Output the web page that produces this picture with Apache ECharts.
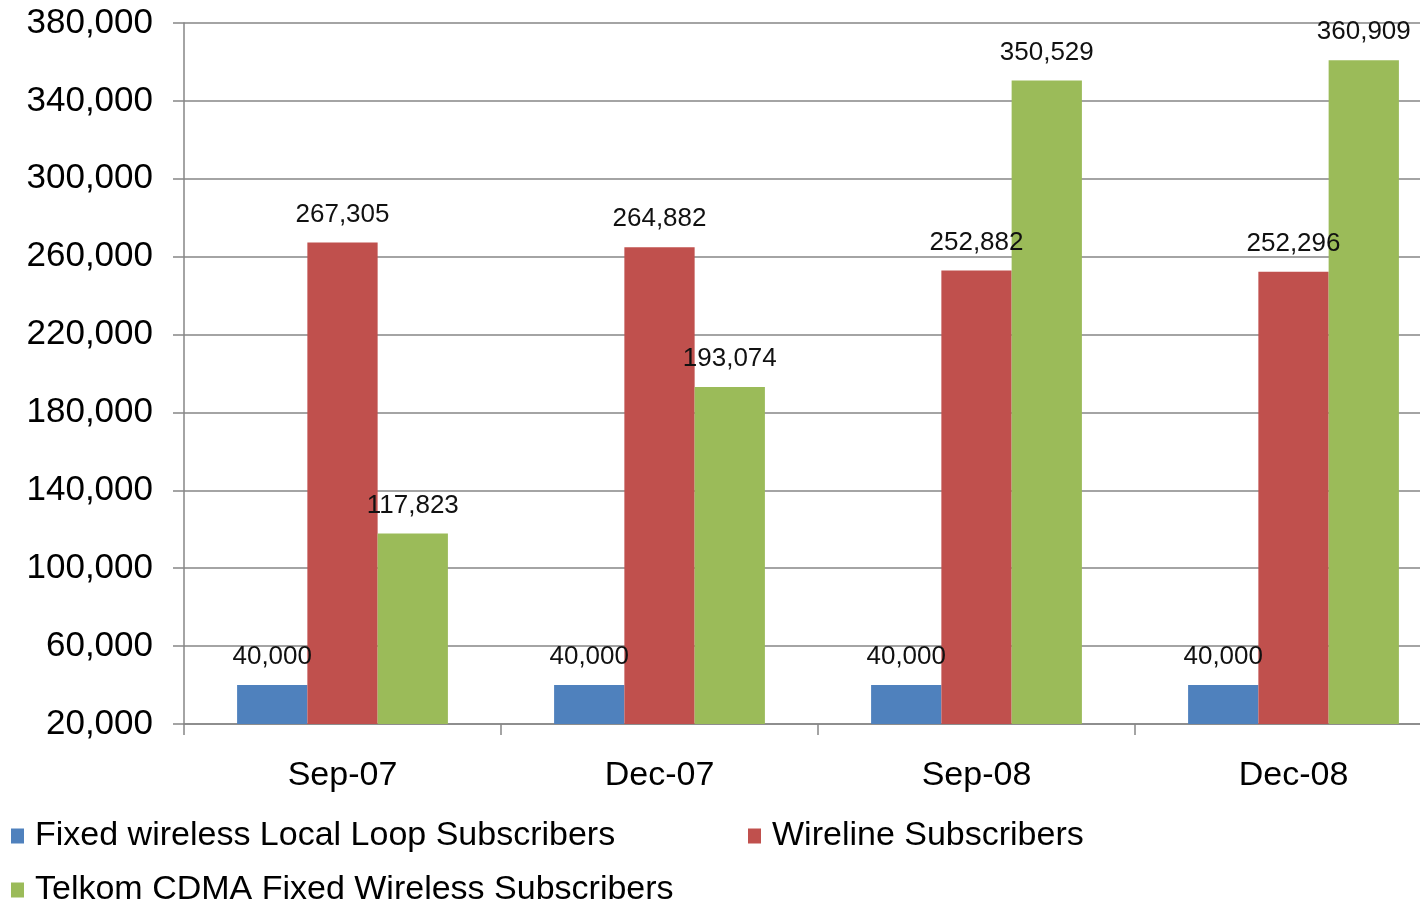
<!DOCTYPE html>
<html>
<head>
<meta charset="utf-8">
<script src="https://cdn.jsdelivr.net/npm/echarts@6/dist/echarts.min.js"></script>
<style>
html,body{margin:0;padding:0;background:#fff;overflow:hidden;}
#chart{width:1452px;height:902px;}
</style>
</head>
<body>
<div id="chart"></div>
<script>
const categories = ['Sep-07', 'Dec-07', 'Sep-08', 'Dec-08'];
const seriesNames = ['Fixed wireless Local Loop Subscribers', 'Wireline Subscribers', 'Telkom CDMA Fixed Wireless Subscribers'];
const fixedWirelessLocalLoop = [40000, 40000, 40000, 40000];
const wireline = [267305, 264882, 252882, 252296];
const telkomCdma = [117823, 193074, 350529, 360909];
const yTicks = [20000, 60000, 100000, 140000, 180000, 220000, 260000, 300000, 340000, 380000];

const colors = ['#4F81BD', '#C0504D', '#9BBB59'];
const fmt = v => Number(v).toLocaleString('en-US');
const FONT = '"Liberation Sans", Arial, sans-serif';

const chart = echarts.init(document.getElementById('chart'), null, {renderer: 'canvas'});

function mkSeries(name, data, color) {
  return {
    name: name,
    type: 'bar',
    data: data,
    barGap: '0%',
    barCategoryGap: '33.5%',
    itemStyle: {color: color},
    label: {
      show: true,
      position: 'top',
      distance: 15,
      formatter: p => fmt(p.value),
      color: '#111',
      fontFamily: FONT,
      fontSize: 26
    }
  };
}

const legendText = {color: '#000', fontFamily: FONT, fontSize: 34, padding: [0, 0, 0, 6]};
const legendCommon = {icon: 'rect', itemWidth: 13, itemHeight: 15, padding: 0, textStyle: legendText};

chart.setOption({
  animation: false,
  backgroundColor: '#fff',
  color: colors,
  grid: {left: 184, top: 23, right: 0, bottom: 178, containLabel: false},
  legend: [
    Object.assign({data: [seriesNames[0]], left: 11, top: 819}, legendCommon),
    Object.assign({data: [seriesNames[1]], left: 748, top: 819}, legendCommon),
    Object.assign({data: [seriesNames[2]], left: 11, top: 873}, legendCommon)
  ],
  xAxis: {
    type: 'category',
    data: categories,
    axisLine: {lineStyle: {color: '#868686', width: 1.5}},
    axisTick: {show: true, length: 11, lineStyle: {color: '#868686', width: 1.5}},
    axisLabel: {color: '#000', fontFamily: FONT, fontSize: 34, margin: 35}
  },
  yAxis: {
    type: 'value',
    min: yTicks[0],
    max: yTicks[yTicks.length - 1],
    interval: yTicks[1] - yTicks[0],
    axisLine: {show: true, lineStyle: {color: '#868686', width: 1.5}},
    axisTick: {show: true, length: 11, lineStyle: {color: '#868686', width: 1.5}},
    splitLine: {show: true, lineStyle: {color: '#868686', width: 1.5}},
    axisLabel: {color: '#000', fontFamily: FONT, fontSize: 35, margin: 31, formatter: v => fmt(v)}
  },
  series: [
    mkSeries(seriesNames[0], fixedWirelessLocalLoop, colors[0]),
    mkSeries(seriesNames[1], wireline, colors[1]),
    mkSeries(seriesNames[2], telkomCdma, colors[2])
  ]
});
</script>
</body>
</html>
